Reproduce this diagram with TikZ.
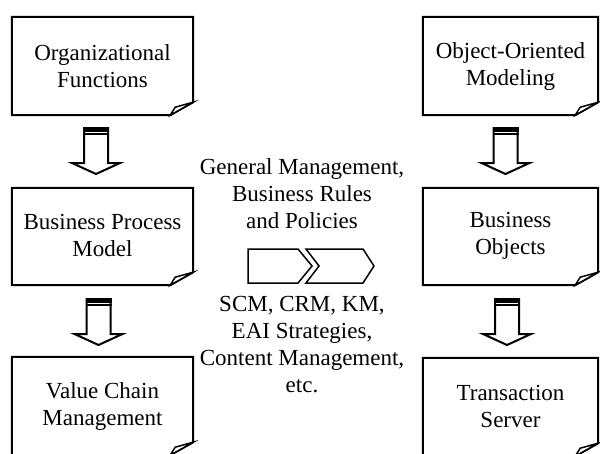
\documentclass[tikz,border=0pt]{standalone}
\usepackage{fontspec}
\setmainfont{Liberation Serif}
\usetikzlibrary{calc}
\tikzset{
  boxnode/.style={draw=none, inner sep=0pt, align=center, font=\fontsize{23}{27}\selectfont},
  outline/.style={draw=black, line width=2pt, fill=white, line join=miter},
  midtext/.style={align=center, font=\fontsize{23}{27}\selectfont},
  chev/.style={draw=black, line width=1.5pt, fill=white, line join=miter}
}
\newcommand\notebox[1]{%
  \draw[outline] (#1.north west) -- (#1.north east) -- ([yshift=13pt]#1.south east)
     -- ([xshift=-23pt]#1.south east) -- (#1.south west) -- cycle;
  \draw[outline, line width=1.5pt] ([yshift=13pt]#1.south east) -- ([xshift=-23pt]#1.south east)
     -- ([xshift=-18pt,yshift=8pt]#1.south east) -- cycle;
}
\newcommand\blkarrow[2]{%
  \draw[outline] ([xshift=-12pt]#1) -- ([xshift=-12pt,yshift=11pt]#2) -- ([xshift=-24pt,yshift=11pt]#2)
     -- (#2) -- ([xshift=24pt,yshift=11pt]#2) -- ([xshift=12pt,yshift=11pt]#2) -- ([xshift=12pt]#1);
  \fill ([xshift=-13pt]#1) rectangle ([xshift=13pt,yshift=-4.5pt]#1);
  \draw[line width=1.6pt] ([xshift=-13pt,yshift=-7.2pt]#1) -- ([xshift=13pt,yshift=-7.2pt]#1);
}
\begin{document}
\begin{tikzpicture}[x=1pt,y=-1pt]
\useasboundingbox (0,0) rectangle (600,453);
% left column
\node[boxnode, minimum width=181pt, minimum height=98pt] (f1) at (102.5,66) {};
\node[boxnode, minimum width=181pt, minimum height=97pt] (f2) at (102.5,236.5) {};
\node[boxnode, minimum width=181pt, minimum height=98pt] (f3) at (102.5,406) {};
% right column
\node[boxnode, minimum width=175pt, minimum height=98pt] (r1) at (510.5,66) {};
\node[boxnode, minimum width=175pt, minimum height=97pt] (r2) at (510.5,236.5) {};
\node[boxnode, minimum width=175pt, minimum height=98pt] (r3) at (510.5,407) {};
\notebox{f1}\notebox{f2}\notebox{f3}
\notebox{r1}\notebox{r2}\notebox{r3}
\node[boxnode] (t1) at (f1) {Organizational\\Functions};
\node[boxnode] (t2) at ([yshift=1pt]f2) {Business Process\\Model};
\node[boxnode] (t3) at (f3) {Value Chain\\Management};
\node[boxnode] (t4) at (r1) {Object-Oriented\\Modeling};
\node[boxnode] (t5) at ([yshift=1pt]r2) {Business\\Objects};
\node[boxnode] (t6) at ([yshift=1pt]r3) {Transaction\\Server};
% arrows
\coordinate (a1t) at (96,127);   \coordinate (a1b) at (96,174);
\coordinate (a2t) at (98.5,298); \coordinate (a2b) at (98.5,345);
\coordinate (b1t) at (505.5,127); \coordinate (b1b) at (505.5,174);
\coordinate (b2t) at (507,298);  \coordinate (b2b) at (507,345);
\blkarrow{a1t}{a1b}
\blkarrow{a2t}{a2b}
\blkarrow{b1t}{b1b}
\blkarrow{b2t}{b2b}
% middle
\node[midtext] (gm) at (302,194) {General Management,\\Business Rules\\and Policies};
\node[midtext] (scm) at (302,345) {SCM, CRM, KM,\\EAI Strategies,\\Content Management,\\etc.};
\draw[chev] (248,249) -- (298,249) -- (312,266) -- (298,283) -- (248,283) -- cycle;
\draw[chev] (306,249) -- (363,249) -- (374,266) -- (363,283) -- (306,283) -- (319,266) -- cycle;
\end{tikzpicture}
\end{document}
